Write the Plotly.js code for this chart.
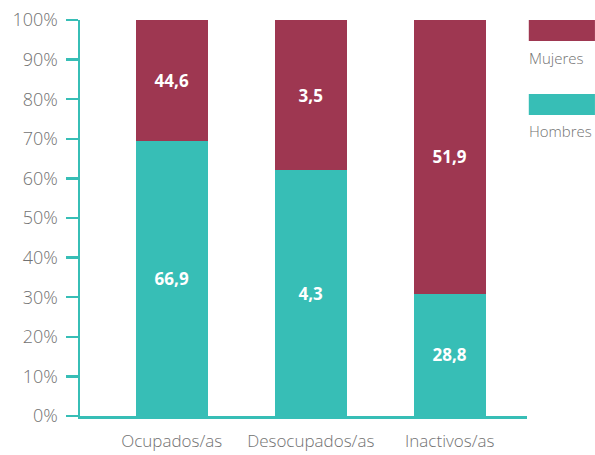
<!DOCTYPE html>
<html>
<head>
<meta charset="utf-8">
<script src="https://cdn.plot.ly/plotly-3.0.1.min.js"></script>
<style>html,body{margin:0;padding:0;background:#fff;}#chart{width:595px;height:455px;}</style>
</head>
<body>
<div id="chart"></div>
<script>
// Data
const categories = ["Ocupados/as", "Desocupados/as", "Inactivos/as"];
// Share of each bar (percent)
const hombresShare = [69.4, 62.1, 30.9];
const mujeresShare = [30.6, 37.9, 69.1];
// Printed labels (values shown inside the bars)
const hombresLabels = ["66,9", "4,3", "28,8"];
const mujeresLabels = ["44,6", "3,5", "51,9"];
const yTicks = [0, 10, 20, 30, 40, 50, 60, 70, 80, 90, 100];
const yTickText = yTicks.map(v => v + "%");

const teal = "#37beb6";
const wine = "#9e3751";
const gray = "#727272";
const FONT = "Open Sans, sans-serif";

const traces = [
  {
    type: "bar", name: "Hombres", x: categories, y: hombresShare,
    text: hombresLabels, textposition: "inside", insidetextanchor: "middle",
    textfont: {family: FONT, size: 17, color: "#ffffff", weight: 700},
    marker: {color: teal}, hoverinfo: "none"
  },
  {
    type: "bar", name: "Mujeres", x: categories, y: mujeresShare,
    text: mujeresLabels, textposition: "inside", insidetextanchor: "middle",
    textfont: {family: FONT, size: 17, color: "#ffffff", weight: 700},
    marker: {color: wine}, hoverinfo: "none"
  }
];

const layout = {
  width: 595, height: 455,
  margin: {l: 80, r: 68, t: 20, b: 39, pad: 0},
  paper_bgcolor: "#ffffff", plot_bgcolor: "#ffffff",
  barmode: "stack", bargap: 0.48,
  showlegend: false,
  font: {family: FONT, color: gray, size: 17},
  xaxis: {
    type: "category", range: [-0.66, 2.556],
    showline: true, linecolor: teal, linewidth: 2.5,
    ticks: "", showgrid: false, zeroline: false,
    tickfont: {family: FONT, size: 17, color: gray, weight: 300},
    ticklabelstandoff: 8, fixedrange: true
  },
  yaxis: {
    range: [0, 100], tickvals: yTicks, ticktext: yTickText,
    showline: true, linecolor: teal, linewidth: 2.5,
    ticks: "outside", ticklen: 12, tickwidth: 2.5, tickcolor: teal,
    showgrid: false, zeroline: false,
    tickfont: {family: FONT, size: 18, color: gray, weight: 300},
    ticklabelstandoff: 4, fixedrange: true
  },
  shapes: [
    {type: "rect", xref: "paper", yref: "paper", x0: 1.004, x1: 1.152, y0: 1.0, y1: 0.947, fillcolor: wine, line: {width: 0}},
    {type: "rect", xref: "paper", yref: "paper", x0: 1.004, x1: 1.152, y0: 0.813, y1: 0.760, fillcolor: teal, line: {width: 0}}
  ],
  annotations: [
    {xref: "paper", yref: "paper", x: 1.0, y: 0.904, xanchor: "left", yanchor: "middle", text: "Mujeres", showarrow: false, font: {family: FONT, size: 15, color: gray, weight: 300}},
    {xref: "paper", yref: "paper", x: 1.0, y: 0.72, xanchor: "left", yanchor: "middle", text: "Hombres", showarrow: false, font: {family: FONT, size: 15, color: gray, weight: 300}}
  ]
};

Plotly.newPlot("chart", traces, layout, {displayModeBar: false, staticPlot: true});
</script>
</body>
</html>
